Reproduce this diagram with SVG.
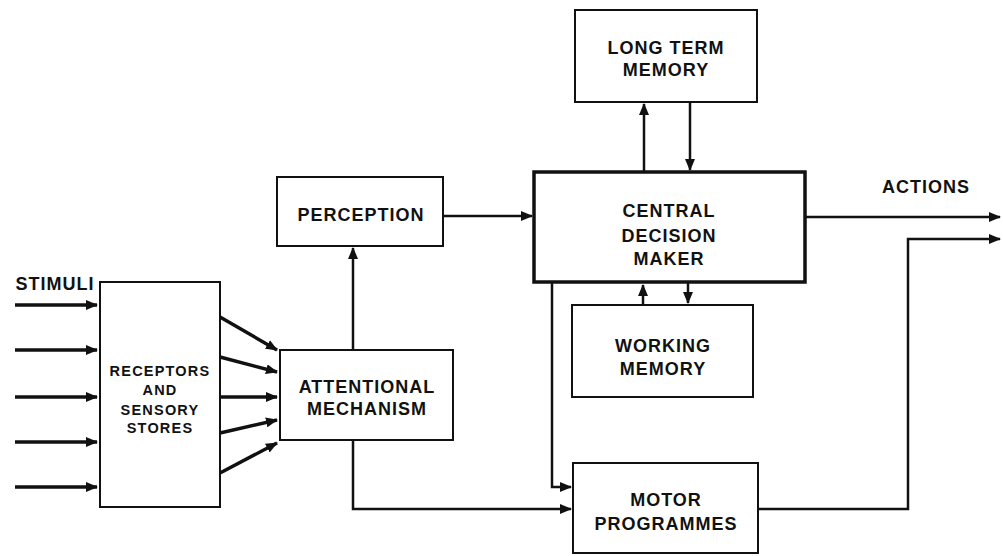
<svg xmlns="http://www.w3.org/2000/svg" width="1003" height="556" viewBox="0 0 1003 556">
<style>
.box{fill:#fff;stroke:#111;stroke-width:2}
.thick{fill:#fff;stroke:#111;stroke-width:3.5}
.t{font-family:"Liberation Sans",Arial,sans-serif;font-weight:bold;font-size:18px;letter-spacing:1px;fill:#111;text-anchor:middle}
.s{font-size:14.5px;letter-spacing:1.2px}
.c{fill:none;stroke:#111;stroke-width:2.5}
.in{fill:none;stroke:#111;stroke-width:3.5}
</style>
<defs>
<marker id="ah" markerUnits="userSpaceOnUse" markerWidth="12" markerHeight="10" refX="11" refY="5" orient="auto">
<path d="M0,0 L12,5 L0,10 Z" fill="#111"/>
</marker>
</defs>
<rect width="1003" height="556" fill="#fff"/>
<g id="connectors">
<line class="in" x1="15" y1="305" x2="97" y2="305" marker-end="url(#ah)"/>
<line class="in" x1="15" y1="350" x2="97" y2="350" marker-end="url(#ah)"/>
<line class="in" x1="15" y1="397" x2="97" y2="397" marker-end="url(#ah)"/>
<line class="in" x1="15" y1="442" x2="97" y2="442" marker-end="url(#ah)"/>
<line class="in" x1="15" y1="487" x2="97" y2="487" marker-end="url(#ah)"/>
<line class="in" x1="220" y1="317" x2="277" y2="350" marker-end="url(#ah)"/>
<line class="in" x1="220" y1="357" x2="277" y2="372" marker-end="url(#ah)"/>
<line class="in" x1="220" y1="397" x2="277" y2="397" marker-end="url(#ah)"/>
<line class="in" x1="220" y1="433" x2="277" y2="420" marker-end="url(#ah)"/>
<line class="in" x1="220" y1="473" x2="277" y2="443" marker-end="url(#ah)"/>
<line class="c" x1="353" y1="350" x2="353" y2="248" marker-end="url(#ah)"/>
<line class="c" x1="443" y1="216" x2="532" y2="216" marker-end="url(#ah)"/>
<line class="c" x1="644" y1="172" x2="644" y2="104" marker-end="url(#ah)"/>
<line class="c" x1="690" y1="102" x2="690" y2="170" marker-end="url(#ah)"/>
<line class="c" x1="643" y1="305" x2="643" y2="285" marker-end="url(#ah)"/>
<line class="c" x1="688" y1="283" x2="688" y2="303" marker-end="url(#ah)"/>
<polyline class="c" points="552,283 552,487 571,487" marker-end="url(#ah)"/>
<polyline class="c" points="353,440 353,509 571,509" marker-end="url(#ah)"/>
<polyline class="c" points="758,509 908,509 908,239 1000,239" marker-end="url(#ah)"/>
<line class="c" x1="806" y1="217" x2="1000" y2="217" marker-end="url(#ah)"/>
</g>
<g id="stimuli-label"><text class="t" x="55" y="290">STIMULI</text></g>
<g id="actions-label"><text class="t" x="926" y="193">ACTIONS</text></g>
<g id="receptors">
<rect class="box" x="100" y="282" width="120" height="225"/>
<text class="t s" x="160" y="376">RECEPTORS</text>
<text class="t s" x="160" y="395">AND</text>
<text class="t s" x="160" y="415">SENSORY</text>
<text class="t s" x="160" y="433">STORES</text>
</g>
<g id="attentional">
<rect class="box" x="280" y="350" width="173" height="90"/>
<text class="t" x="367" y="393">ATTENTIONAL</text>
<text class="t" x="367" y="415">MECHANISM</text>
</g>
<g id="perception">
<rect class="box" x="277" y="177" width="166" height="69"/>
<text class="t" x="361" y="221">PERCEPTION</text>
</g>
<g id="cdm">
<rect class="thick" x="534" y="172" width="271" height="110"/>
<text class="t" x="669" y="217">CENTRAL</text>
<text class="t" x="669" y="242">DECISION</text>
<text class="t" x="669" y="265">MAKER</text>
</g>
<g id="ltm">
<rect class="box" x="575" y="10" width="182" height="92"/>
<text class="t" x="666" y="54">LONG TERM</text>
<text class="t" x="666" y="76">MEMORY</text>
</g>
<g id="wm">
<rect class="box" x="572" y="305" width="181" height="92"/>
<text class="t" x="663" y="352">WORKING</text>
<text class="t" x="663" y="375">MEMORY</text>
</g>
<g id="motor">
<rect class="box" x="573" y="463" width="185" height="90"/>
<text class="t" x="666" y="506">MOTOR</text>
<text class="t" x="666" y="530">PROGRAMMES</text>
</g>
</svg>
